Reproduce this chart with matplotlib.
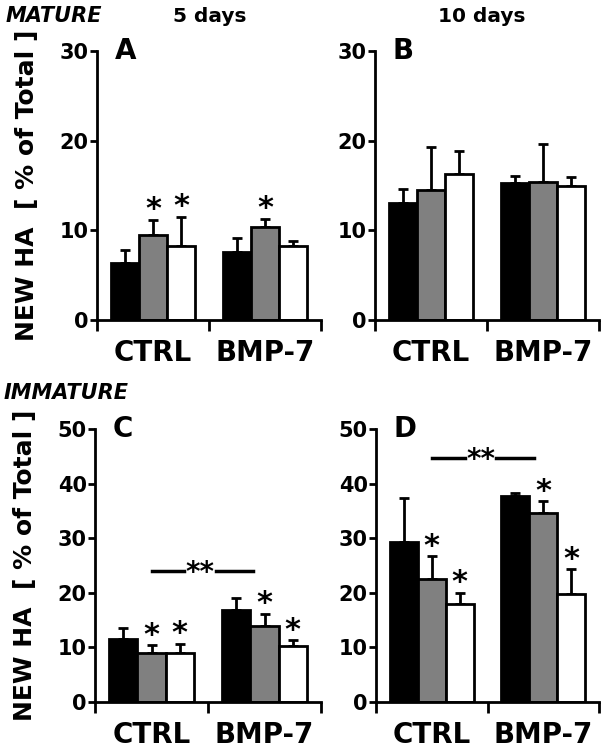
import matplotlib.pyplot as plt
import numpy as np

plt.rcParams['font.family'] = 'DejaVu Sans'
plt.rcParams['font.weight'] = 'bold'

categories = ['CTRL', 'BMP-7']
bar_colors = ['black', '#808080', 'white']

# mean and upper error (SD) per category, three bars each
a_mean = [[6.4, 9.5, 8.3], [7.6, 10.4, 8.3]]
a_err = [[1.4, 1.7, 3.2], [1.5, 0.9, 0.5]]
a_star = [[0, 1, 1], [0, 1, 0]]

b_mean = [[13.0, 14.5, 16.3], [15.3, 15.4, 14.9]]
b_err = [[1.6, 4.8, 2.5], [0.8, 4.2, 1.1]]
b_star = [[0, 0, 0], [0, 0, 0]]

c_mean = [[11.6, 8.9, 9.0], [16.8, 13.9, 10.3]]
c_err = [[2.0, 1.5, 1.7], [2.3, 2.3, 1.0]]
c_star = [[0, 1, 1], [0, 1, 1]]

d_mean = [[29.3, 22.6, 17.9], [37.7, 34.7, 19.7]]
d_err = [[8.1, 4.1, 2.1], [0.5, 2.1, 4.6]]
d_star = [[0, 1, 1], [0, 1, 1]]

# "**" bracket between groups: y level, x start, x end
c_sig = [24.0, 0.5, 1.4]
d_sig = [44.7, 0.5, 1.42]

W, H = 608, 753
fig = plt.figure(figsize=(W / 100, H / 100), dpi=100)


def rect(left, right, y0, ytop):
    return [left / W, (H - y0) / H, (right - left) / W, (y0 - ytop) / H]


bar_width = 0.25


def star(ax, x, y, text='*', dy=1, size=22):
    ax.annotate(text, (x, y), xytext=(0, dy), textcoords='offset points',
                ha='center', va='baseline', fontsize=size, fontweight='bold')


def panel(r, mean, err, stars, ymax, letter, sig=None):
    ax = fig.add_axes(r)
    x = np.array([0.5, 1.5])
    for i in range(3):
        xi = x + (i - 1) * bar_width
        m = [mean[k][i] for k in range(2)]
        e = [err[k][i] for k in range(2)]
        ax.bar(xi, m, width=bar_width, color=bar_colors[i], edgecolor='black',
               linewidth=2, zorder=2)
        ax.errorbar(xi, m, yerr=[np.zeros(2), e], fmt='none', ecolor='black',
                    elinewidth=2, capsize=3.8, capthick=2, zorder=1)
        for k in range(2):
            if stars[k][i]:
                star(ax, xi[k], m[k] + e[k])
    if sig is not None:
        y, x0, x1 = sig
        mid = (x0 + x1) / 2
        ax.plot([x0, mid - 0.16], [y, y], color='black', lw=2.5)
        ax.plot([mid + 0.12, x1], [y, y], color='black', lw=2.5)
        star(ax, mid - 0.02, y, text='**', dy=-7, size=20)
    ax.set_xlim(0, 2)
    ax.set_ylim(0, ymax)
    ax.set_yticks(np.arange(0, ymax + 1, 10))
    ax.set_xticks([0, 1, 2])
    ax.set_xticklabels([])
    ax.set_xticks(x, minor=True)
    ax.set_xticklabels(categories, minor=True)
    ax.tick_params(axis='x', which='minor', length=0, pad=14, labelsize=20)
    ax.tick_params(axis='x', which='major', length=8, width=2)
    ax.tick_params(axis='y', length=5, width=2, pad=1, labelsize=15)
    for t in ax.get_yticklabels() + ax.get_xticklabels(minor=True):
        t.set_fontweight('bold')
    for s in ['top', 'right']:
        ax.spines[s].set_visible(False)
    for s in ['left', 'bottom']:
        ax.spines[s].set_linewidth(2)
    ax.text(0.08, 1.0, letter, transform=ax.transAxes, ha='left', va='center',
            fontsize=20, fontweight='bold')
    return ax


ax_a = panel(rect(97, 321, 320, 51), a_mean, a_err, a_star, 30, 'A')
ax_b = panel(rect(375, 599, 320, 51), b_mean, b_err, b_star, 30, 'B')
ax_c = panel(rect(95, 321, 702, 429), c_mean, c_err, c_star, 50, 'C', c_sig)
ax_d = panel(rect(376, 599, 702, 429), d_mean, d_err, d_star, 50, 'D', d_sig)

ylab = 'NEW HA  [ % of Total ]'
for ax in [ax_a, ax_c]:
    ax.set_ylabel(ylab, fontsize=18, fontweight='bold', labelpad=15)

fig.text(6 / W, 1 - 16 / H, 'MATURE', ha='left', va='center', fontsize=15,
         fontweight='bold', fontstyle='italic')
fig.text(210 / W, 1 - 16 / H, '5 days', ha='center', va='center', fontsize=14.5,
         fontweight='bold')
fig.text(482 / W, 1 - 16 / H, '10 days', ha='center', va='center', fontsize=14.5,
         fontweight='bold')
fig.text(4 / W, 1 - 393 / H, 'IMMATURE', ha='left', va='center', fontsize=15,
         fontweight='bold', fontstyle='italic')

fig.savefig('out.png', dpi=100)
